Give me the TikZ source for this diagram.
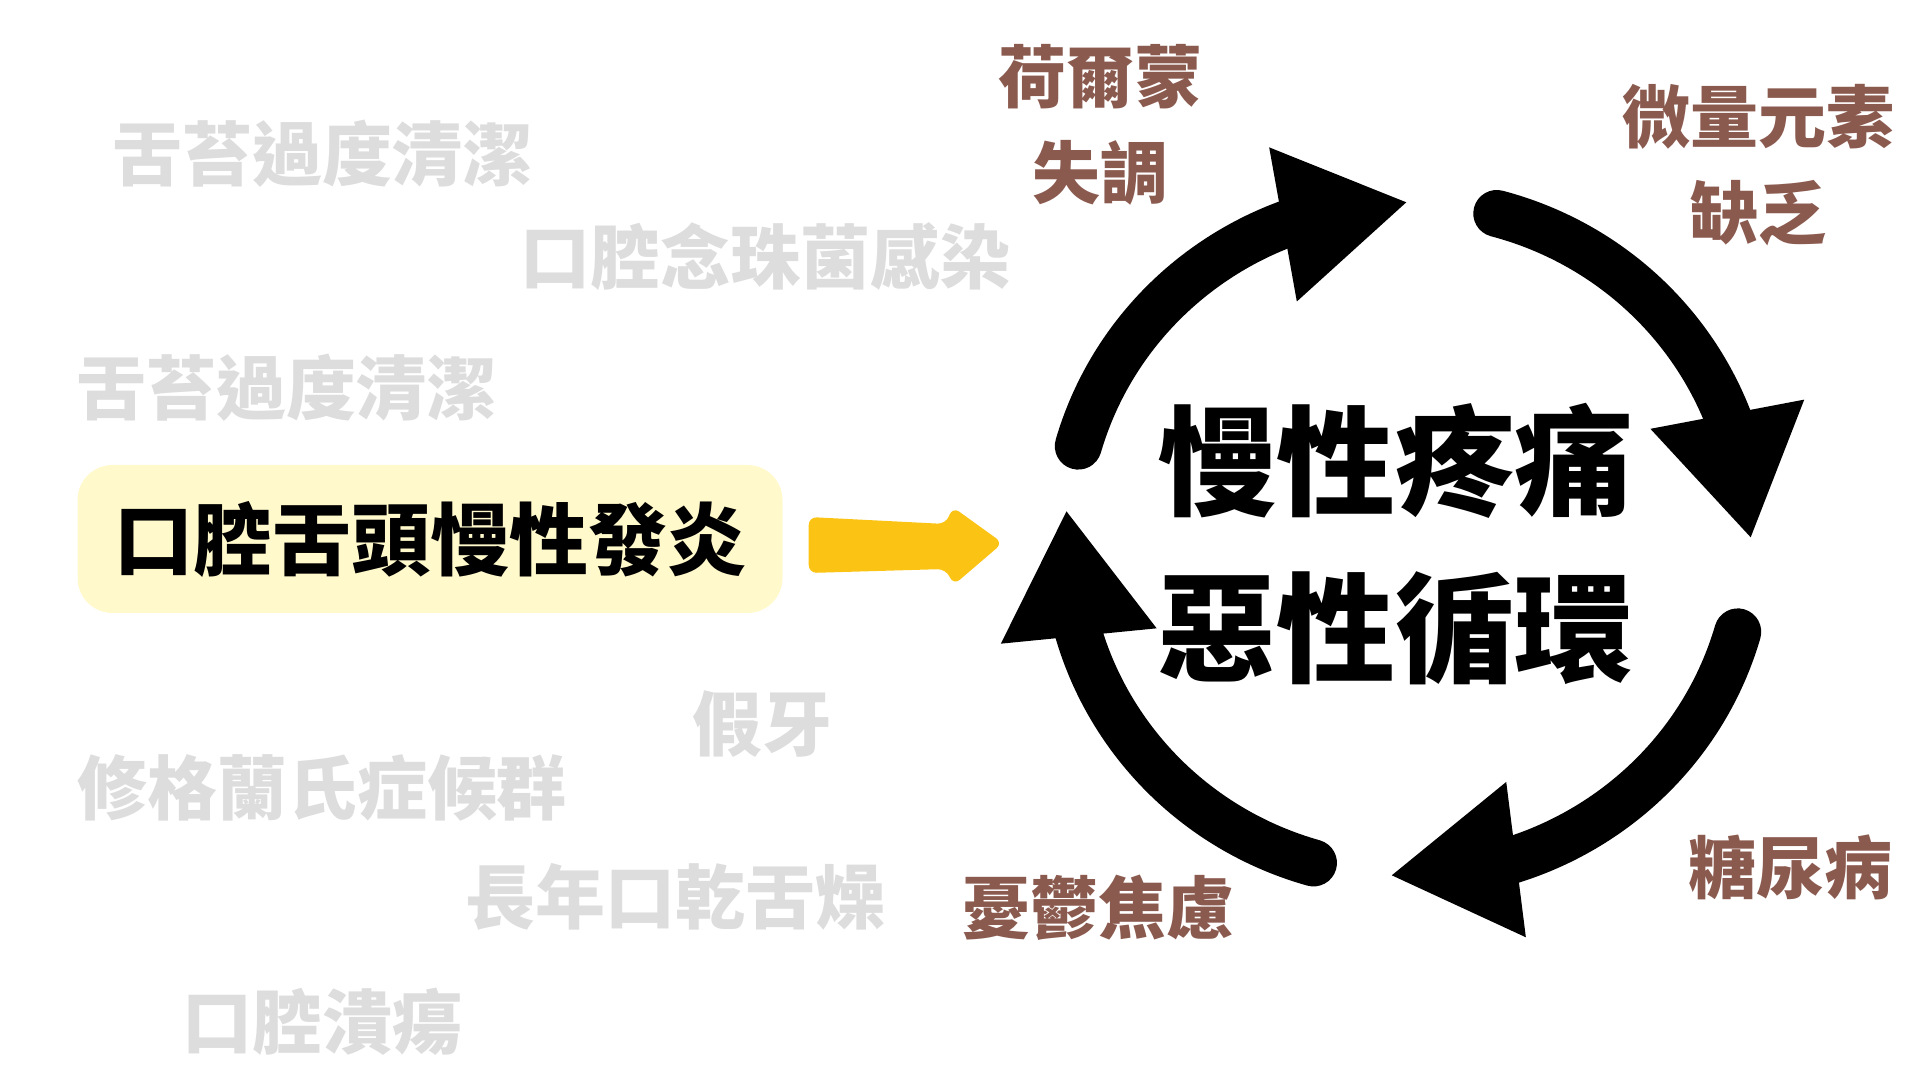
\documentclass[tikz,border=0pt]{standalone}
\usepackage{fontspec}
\newfontfamily\cjk{Noto Sans CJK TC}
\usepackage{xcolor}
\usepackage{tikz}
\usetikzlibrary{arrows.meta}
\usetikzlibrary{bending}

\definecolor{fadegrey}{HTML}{DDDDDD}
\definecolor{factorbrown}{HTML}{8B5A4F}
\definecolor{boxyellow}{HTML}{FFF9CC}
\definecolor{pushyellow}{HTML}{FBC314}

\begin{document}
\begin{tikzpicture}[
        x=1pt, y=1pt,
        cause/.style={text=fadegrey, inner sep=0pt, font=\cjk\bfseries\fontsize{70}{84}\selectfont},
        factor/.style={text=factorbrown, inner sep=0pt, align=center, font=\cjk\bfseries\fontsize{68}{96}\selectfont},
        cycarrow/.style={line width=47pt, line cap=round, -{Triangle[length=127pt,width=147pt]}},
        ]
        \useasboundingbox (0,0) rectangle (1920,1080);

        % faded causes on the left
        \node[cause] (tongue1) at (322,926) {舌苔過度清潔};
        \node[cause] (candida) at (765,823) {口腔念珠菌感染};
        \node[cause] (tongue2) at (286,692) {舌苔過度清潔};
        \node[cause] (denture) at (762,356) {假牙};
        \node[cause] (sjogren) at (322,292) {修格蘭氏症候群};
        \node[cause] (dryness) at (675,183) {長年口乾舌燥};
        \node[cause] (ulcer) at (322,58) {口腔潰瘍};

        \node[fill=boxyellow, rounded corners=35pt, minimum width=705pt, minimum height=148pt,
            font=\cjk\bfseries\fontsize{79}{90}\selectfont] (inflame) at (430,541) {口腔舌頭慢性發炎};

        \coordinate (push) at ([xshift=26pt,yshift=22pt]inflame.east);
        \fill[pushyellow, rounded corners=8pt] (push) -- ++(137,-7) -- ++(7,17) -- ++(50,-36)
            -- ++(-49,-42) -- ++(-8,16) -- ++(-137,-4) -- cycle;

        % the cycle
        \coordinate (cyc) at (1408,541);
        \node[inner sep=0pt, align=center, font=\cjk\bfseries\fontsize{119}{167}\selectfont] (pain) at (1395,536) {慢性疼痛\\惡性循環};

        \draw[cycarrow] ([shift={(164:343pt and 337pt)}]cyc) arc[start angle=164, end angle=90, x radius=343pt, y radius=337pt];
        \draw[cycarrow] ([shift={(75:343pt and 337pt)}]cyc) arc[start angle=75, end angle=0, x radius=343pt, y radius=337pt];
        \draw[cycarrow] ([shift={(-16:343pt and 337pt)}]cyc) arc[start angle=-16, end angle=-93, x radius=343pt, y radius=337pt];
        \draw[cycarrow] ([shift={(-106:343pt and 337pt)}]cyc) arc[start angle=-106, end angle=-185, x radius=343pt, y radius=337pt];

        \node[factor] (hormone) at (1100,955) {荷爾蒙\\失調};
        \node[factor] (trace) at (1758,915) {微量元素\\缺乏};
        \node[factor] (diabetes) at (1790,213) {糖尿病};
        \node[factor] (anxiety) at (1098,172) {憂鬱焦慮};
    \end{tikzpicture}
\end{document}
